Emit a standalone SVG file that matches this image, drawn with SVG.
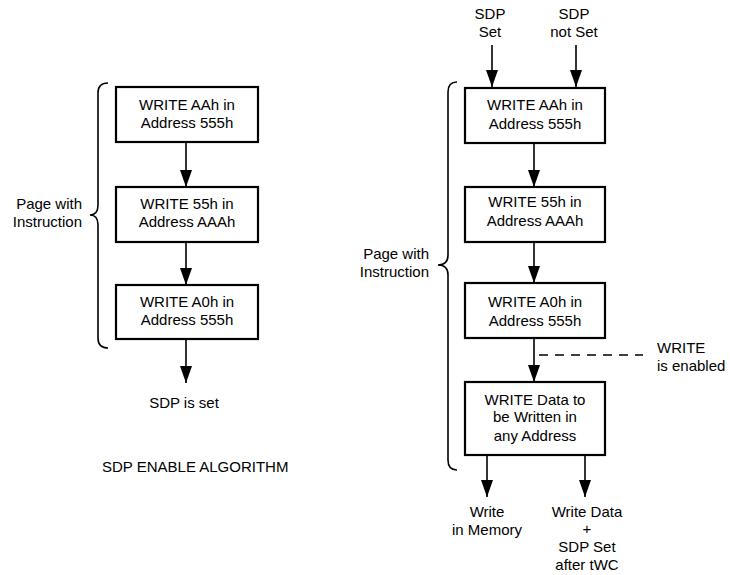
<svg xmlns="http://www.w3.org/2000/svg" width="730" height="575" viewBox="0 0 730 575">
<style>
text{font-family:"Liberation Sans",Arial,sans-serif;font-size:15px;fill:#000}
.c{text-anchor:middle}
.r{text-anchor:end}
.box{fill:#fff;stroke:#000;stroke-width:2.2}
.ln{stroke:#000;stroke-width:1.6;fill:none}
.br{stroke:#000;stroke-width:1.6;fill:none}
.dash{stroke:#000;stroke-width:1.4;stroke-dasharray:9 7;fill:none}
</style>
<defs>
<marker id="ah" markerUnits="userSpaceOnUse" markerWidth="18" markerHeight="12" viewBox="0 0 18 12" refX="17" refY="6" orient="auto">
<path d="M0,0 L17,6 L0,12 Z" fill="#000"/>
</marker>
</defs>
<rect width="730" height="575" fill="#fff"/>

<!-- Left diagram -->
<g id="l_brace">
<path class="br" d="M108,83 Q98,83 98,93 L98,205 Q98,215 90,215 Q98,215 98,225 L98,338 Q98,348 108,348"/>
<text class="r" x="82" y="209">Page with</text>
<text class="r" x="82" y="227">Instruction</text>
</g>
<g id="l_box1">
<rect class="box" x="116" y="87" width="142" height="55"/>
<text class="c" x="187" y="110">WRITE AAh in</text>
<text class="c" x="187" y="128">Address 555h</text>
</g>
<g id="l_box2">
<rect class="box" x="116" y="187" width="142" height="55"/>
<text class="c" x="187" y="209">WRITE 55h in</text>
<text class="c" x="187" y="227">Address AAAh</text>
</g>
<g id="l_box3">
<rect class="box" x="116" y="285" width="142" height="54"/>
<text class="c" x="187" y="307">WRITE A0h in</text>
<text class="c" x="187" y="325">Address 555h</text>
</g>
<g id="l_end">
<text class="c" x="184" y="408">SDP is set</text>
</g>
<g id="caption">
<text x="102" y="472">SDP ENABLE ALGORITHM</text>
</g>

<!-- Right diagram -->
<g id="r_in1">
<text class="c" x="490" y="19">SDP</text>
<text class="c" x="490" y="37">Set</text>
</g>
<g id="r_in2">
<text class="c" x="574" y="19">SDP</text>
<text class="c" x="574" y="37">not Set</text>
</g>
<g id="r_brace">
<path class="br" d="M457,82 Q448,82 448,92 L448,255 Q448,265 438,265 Q448,265 448,275 L448,460 Q448,470 457,470"/>
<text class="r" x="429" y="259">Page with</text>
<text class="r" x="429" y="277">Instruction</text>
</g>
<g id="r_box1">
<rect class="box" x="465" y="88" width="140" height="55"/>
<text class="c" x="535" y="110">WRITE AAh in</text>
<text class="c" x="535" y="129">Address 555h</text>
</g>
<g id="r_box2">
<rect class="box" x="465" y="187" width="140" height="55"/>
<text class="c" x="535" y="207">WRITE 55h in</text>
<text class="c" x="535" y="226">Address AAAh</text>
</g>
<g id="r_box3">
<rect class="box" x="465" y="283" width="140" height="55"/>
<text class="c" x="535" y="307">WRITE A0h in</text>
<text class="c" x="535" y="326">Address 555h</text>
</g>
<g id="r_note">
<text x="657" y="353">WRITE</text>
<text x="657" y="371">is enabled</text>
</g>
<g id="r_box4">
<rect class="box" x="465" y="382" width="140" height="73"/>
<text class="c" x="535" y="405">WRITE Data to</text>
<text class="c" x="535" y="422">be Written in</text>
<text class="c" x="535" y="441">any Address</text>
</g>
<g id="r_out1">
<text class="c" x="487" y="517">Write</text>
<text class="c" x="487" y="535">in Memory</text>
</g>
<g id="r_out2">
<text class="c" x="587" y="517">Write Data</text>
<text class="c" x="587" y="534">+</text>
<text class="c" x="587" y="552">SDP Set</text>
<text class="c" x="587" y="570">after tWC</text>
</g>

<g id="connectors">
<line class="ln" x1="186" y1="142" x2="186" y2="187" marker-end="url(#ah)"/>
<line class="ln" x1="186" y1="242" x2="186" y2="285" marker-end="url(#ah)"/>
<line class="ln" x1="186" y1="339" x2="186" y2="383" marker-end="url(#ah)"/>
<line class="ln" x1="492" y1="45" x2="492" y2="87" marker-end="url(#ah)"/>
<line class="ln" x1="576" y1="45" x2="576" y2="87" marker-end="url(#ah)"/>
<line class="ln" x1="534" y1="143" x2="534" y2="187" marker-end="url(#ah)"/>
<line class="ln" x1="534" y1="242" x2="534" y2="283" marker-end="url(#ah)"/>
<line class="ln" x1="534" y1="338" x2="534" y2="382" marker-end="url(#ah)"/>
<line class="dash" x1="539" y1="355" x2="643" y2="355"/>
<line class="ln" x1="487" y1="455" x2="487" y2="497" marker-end="url(#ah)"/>
<line class="ln" x1="585" y1="455" x2="585" y2="497" marker-end="url(#ah)"/>
</g>
</svg>
